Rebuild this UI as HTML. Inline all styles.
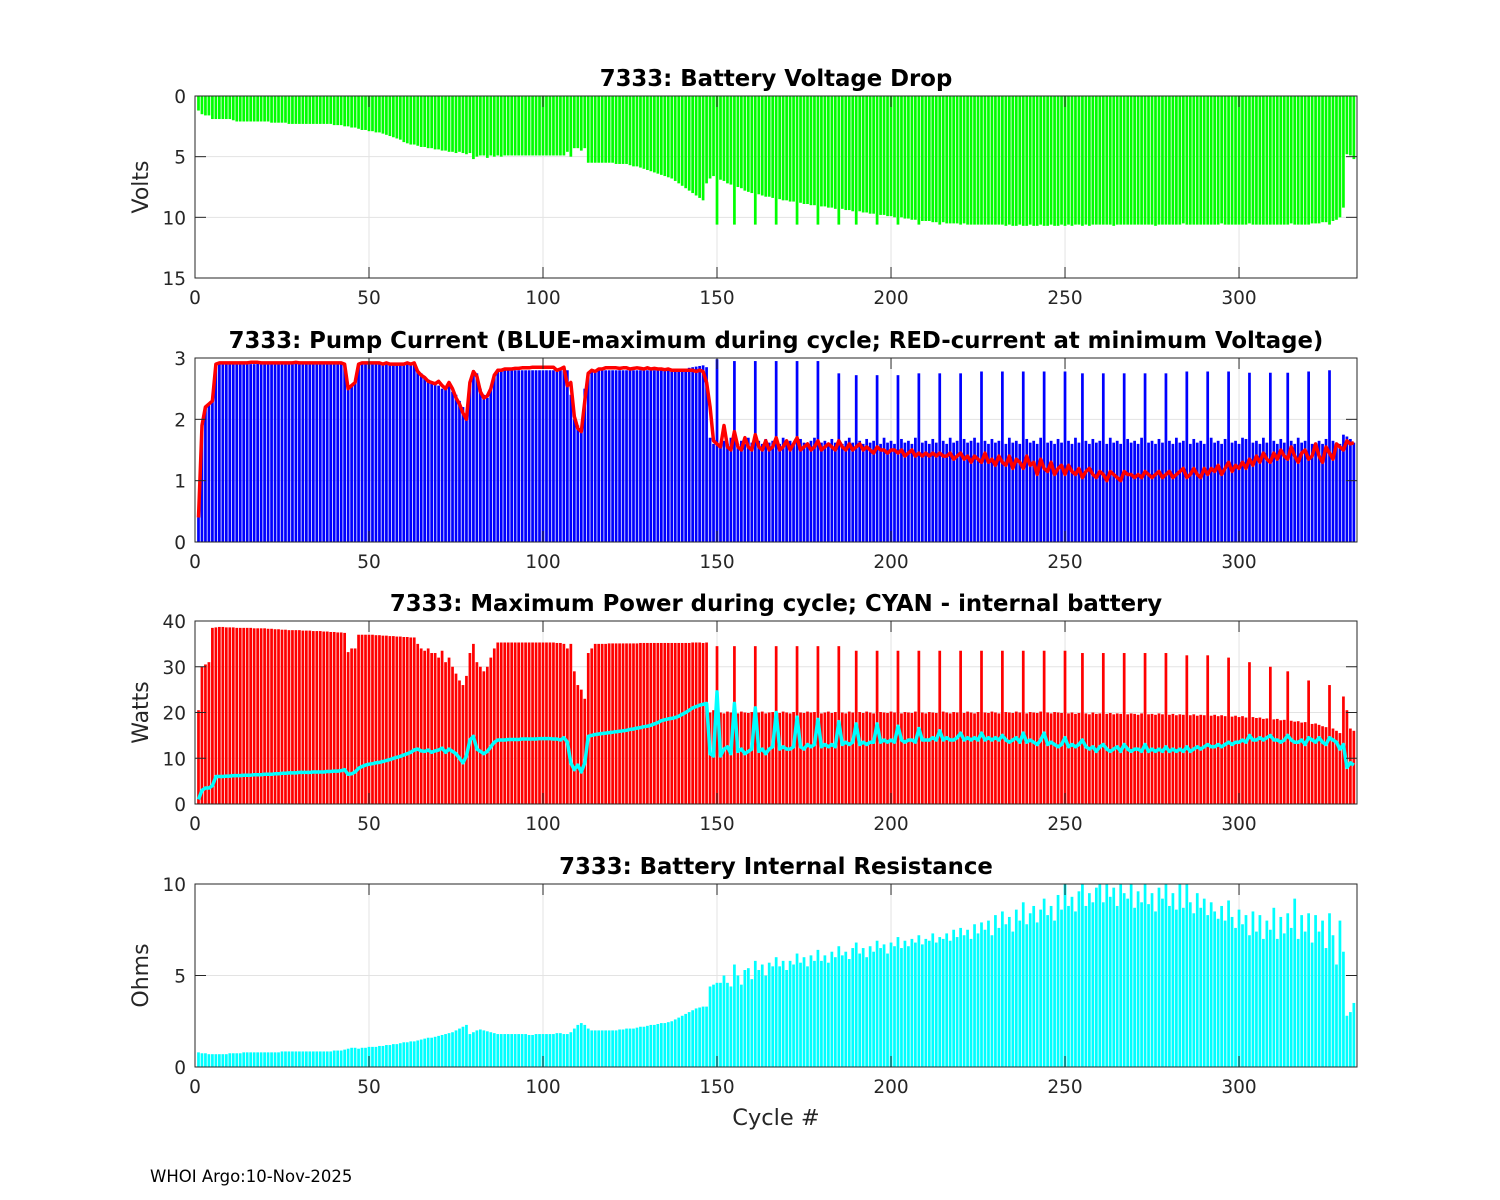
<!DOCTYPE html>
<html><head><meta charset="utf-8"><style>
html,body{margin:0;padding:0;background:#fff;}
svg{display:block;font-family:"DejaVu Sans","Liberation Sans",sans-serif;}
</style></head><body>
<svg id="fig" width="1500" height="1200" viewBox="0 0 1500 1200" xmlns="http://www.w3.org/2000/svg">
<rect width="1500" height="1200" fill="#fff"/>
</svg>
<script>
const cycles = [];
for (let i = 1; i <= 333; i++) cycles.push(i);
const xTicks = [0, 50, 100, 150, 200, 250, 300];

const voltDrop = [1.2,1.5,1.6,1.6,1.9,1.9,1.9,1.9,1.9,1.9,
2.0,2.1,2.1,2.1,2.1,2.1,2.1,2.1,2.1,2.1,
2.1,2.2,2.2,2.2,2.2,2.2,2.3,2.3,2.3,2.3,
2.3,2.3,2.3,2.3,2.3,2.3,2.3,2.3,2.3,2.4,
2.4,2.4,2.5,2.5,2.6,2.6,2.7,2.8,2.8,2.9,
2.9,3.0,3.0,3.1,3.2,3.3,3.4,3.5,3.6,3.8,
3.9,4.0,4.0,4.1,4.2,4.2,4.3,4.3,4.4,4.4,
4.5,4.5,4.6,4.6,4.7,4.6,4.7,4.8,4.7,5.2,
5.0,4.9,4.9,5.1,4.9,5.0,4.9,5.0,4.9,4.9,
4.9,4.9,4.9,4.9,4.9,4.9,4.9,4.9,4.9,4.9,
4.9,4.9,4.9,4.9,4.9,4.9,4.6,5.0,4.3,4.3,
4.5,4.3,5.5,5.5,5.5,5.5,5.5,5.5,5.5,5.5,
5.6,5.6,5.6,5.6,5.7,5.8,5.8,5.9,6.0,6.1,
6.2,6.3,6.4,6.5,6.6,6.7,6.8,7.0,7.2,7.4,
7.6,7.8,8.0,8.2,8.4,8.6,7.2,6.8,6.6,10.6,
6.9,7.0,7.2,7.3,10.6,7.5,7.6,7.8,7.9,8.0,
10.6,8.1,8.2,8.3,8.3,8.4,10.6,8.5,8.6,8.6,
8.7,8.7,10.6,8.8,8.9,8.9,9.0,9.0,10.6,9.1,
9.1,9.2,9.2,9.3,10.6,9.3,9.4,9.4,9.5,10.6,
9.5,9.6,9.6,9.7,9.7,10.6,9.8,9.8,9.9,9.9,
10.0,10.6,10.0,10.1,10.1,10.2,10.2,10.6,10.3,10.3,
10.3,10.4,10.4,10.6,10.4,10.5,10.5,10.5,10.5,10.6,
10.5,10.6,10.6,10.6,10.6,10.6,10.6,10.6,10.6,10.6,
10.6,10.6,10.7,10.6,10.7,10.7,10.6,10.7,10.7,10.6,
10.7,10.7,10.6,10.7,10.7,10.6,10.7,10.7,10.6,10.7,
10.6,10.7,10.6,10.6,10.7,10.6,10.7,10.6,10.6,10.6,
10.6,10.6,10.6,10.7,10.6,10.6,10.6,10.6,10.6,10.6,
10.6,10.6,10.6,10.6,10.6,10.7,10.6,10.6,10.6,10.6,
10.6,10.6,10.6,10.5,10.6,10.6,10.6,10.6,10.6,10.6,
10.6,10.6,10.6,10.6,10.5,10.6,10.6,10.6,10.6,10.6,
10.6,10.6,10.5,10.6,10.6,10.6,10.6,10.6,10.6,10.6,
10.6,10.6,10.6,10.6,10.5,10.6,10.6,10.6,10.6,10.6,
10.5,10.5,10.5,10.4,10.4,10.6,10.3,10.2,10.0,9.2,
4.8,4.9,5.2];

const pumpMax = [0.4,1.9,2.2,2.25,2.3,2.9,2.9,2.9,2.9,2.9,
2.9,2.9,2.9,2.9,2.9,2.9,2.9,2.92,2.9,2.9,
2.9,2.9,2.9,2.9,2.9,2.9,2.9,2.9,2.92,2.9,
2.9,2.9,2.9,2.9,2.9,2.9,2.9,2.9,2.9,2.9,
2.9,2.9,2.9,2.5,2.55,2.6,2.9,2.9,2.9,2.9,
2.9,2.9,2.9,2.9,2.9,2.9,2.9,2.9,2.9,2.9,
2.9,2.9,2.9,2.8,2.75,2.7,2.65,2.6,2.6,2.55,
2.5,2.5,2.55,2.45,2.4,2.3,2.2,2.05,2.6,2.8,
2.75,2.5,2.4,2.35,2.5,2.7,2.8,2.8,2.8,2.8,
2.8,2.8,2.8,2.8,2.8,2.8,2.8,2.8,2.8,2.8,
2.8,2.8,2.8,2.8,2.8,2.8,2.8,2.4,2.0,1.9,
1.8,2.5,2.75,2.8,2.8,2.8,2.8,2.8,2.8,2.8,
2.8,2.8,2.8,2.8,2.8,2.8,2.8,2.8,2.8,2.8,
2.8,2.8,2.8,2.8,2.8,2.8,2.8,2.8,2.8,2.8,
2.82,2.84,2.85,2.86,2.87,2.88,2.85,1.7,1.6,2.98,
1.6,1.65,1.6,1.7,2.95,1.6,1.65,1.6,1.7,1.62,
2.95,1.65,1.6,1.68,1.62,1.65,2.95,1.6,1.7,1.62,
1.65,1.6,2.95,1.68,1.62,1.6,1.65,1.7,2.95,1.62,
1.65,1.6,1.68,1.62,2.75,1.6,1.65,1.7,1.62,2.72,
1.65,1.6,1.68,1.62,1.65,2.72,1.6,1.7,1.62,1.65,
1.6,2.72,1.68,1.62,1.65,1.6,1.7,2.75,1.62,1.65,
1.6,1.68,1.62,2.75,1.65,1.6,1.7,1.62,1.65,2.75,
1.68,1.62,1.65,1.7,1.62,2.78,1.65,1.6,1.68,1.62,
1.65,2.78,1.6,1.7,1.62,1.65,1.6,2.78,1.68,1.62,
1.65,1.6,1.7,2.78,1.62,1.65,1.6,1.68,1.62,2.78,
1.65,1.6,1.7,1.62,2.75,1.65,1.6,1.68,1.62,1.65,
2.75,1.6,1.7,1.62,1.65,1.6,2.75,1.68,1.62,1.65,
1.6,1.7,2.75,1.62,1.65,1.6,1.68,1.62,2.75,1.65,
1.6,1.7,1.62,1.65,2.78,1.6,1.68,1.62,1.65,1.6,
2.78,1.7,1.62,1.65,1.6,1.68,2.78,1.62,1.65,1.6,
1.7,1.68,2.76,1.62,1.65,1.6,1.7,1.62,2.76,1.65,
1.6,1.68,1.62,2.76,1.65,1.6,1.7,1.62,1.65,2.78,
1.6,1.62,1.65,1.6,1.68,2.8,1.65,1.62,1.6,1.75,
1.72,1.68,1.62];

const pumpAtMinV = [0.4,1.9,2.2,2.25,2.3,2.9,2.92,2.92,2.92,2.92,
2.92,2.92,2.92,2.92,2.92,2.93,2.93,2.93,2.92,2.92,
2.92,2.92,2.92,2.92,2.92,2.92,2.92,2.92,2.93,2.92,
2.92,2.92,2.92,2.92,2.92,2.92,2.92,2.92,2.92,2.92,
2.92,2.92,2.9,2.5,2.55,2.6,2.9,2.92,2.92,2.92,
2.92,2.92,2.92,2.9,2.92,2.9,2.9,2.9,2.9,2.9,
2.92,2.9,2.92,2.78,2.72,2.68,2.62,2.6,2.58,2.62,
2.55,2.5,2.6,2.5,2.35,2.25,2.1,2.0,2.6,2.78,
2.7,2.45,2.35,2.38,2.5,2.72,2.8,2.8,2.82,2.82,
2.82,2.83,2.83,2.84,2.84,2.84,2.85,2.85,2.85,2.85,
2.85,2.85,2.85,2.8,2.82,2.85,2.55,2.6,2.05,1.85,
1.8,2.3,2.75,2.8,2.78,2.82,2.82,2.84,2.84,2.84,
2.84,2.83,2.84,2.84,2.82,2.83,2.84,2.83,2.82,2.84,
2.82,2.83,2.82,2.82,2.81,2.82,2.8,2.8,2.8,2.8,
2.8,2.8,2.8,2.78,2.8,2.78,2.6,2.2,1.65,1.6,
1.55,1.9,1.55,1.5,1.8,1.55,1.5,1.7,1.55,1.5,
1.75,1.55,1.5,1.65,1.5,1.55,1.7,1.5,1.55,1.65,
1.5,1.6,1.7,1.5,1.55,1.6,1.5,1.55,1.65,1.5,
1.55,1.6,1.55,1.5,1.65,1.55,1.5,1.6,1.5,1.55,
1.6,1.5,1.55,1.5,1.45,1.55,1.5,1.5,1.45,1.5,
1.5,1.45,1.5,1.4,1.45,1.5,1.4,1.45,1.4,1.45,
1.4,1.45,1.4,1.45,1.4,1.4,1.45,1.35,1.4,1.45,
1.35,1.4,1.3,1.4,1.35,1.3,1.45,1.3,1.35,1.25,
1.4,1.3,1.25,1.4,1.2,1.35,1.3,1.2,1.4,1.25,
1.3,1.1,1.35,1.2,1.15,1.3,1.1,1.2,1.25,1.1,
1.25,1.15,1.1,1.2,1.05,1.15,1.2,1.1,1.05,1.15,
1.1,1.0,1.15,1.1,1.05,1.0,1.15,1.1,1.1,1.05,
1.1,1.05,1.15,1.1,1.05,1.1,1.15,1.05,1.1,1.15,
1.05,1.1,1.15,1.2,1.05,1.1,1.2,1.1,1.05,1.2,
1.1,1.2,1.15,1.25,1.1,1.2,1.3,1.15,1.25,1.2,
1.3,1.2,1.35,1.25,1.4,1.3,1.45,1.35,1.3,1.45,
1.35,1.5,1.4,1.35,1.55,1.4,1.3,1.45,1.5,1.35,
1.4,1.6,1.4,1.3,1.55,1.45,1.35,1.6,1.55,1.5,
1.65,1.6,1.62];

const maxPower = [20.5,30,30.5,31,38.5,38.6,38.7,38.7,38.6,38.6,
38.6,38.5,38.5,38.5,38.5,38.5,38.4,38.4,38.4,38.4,
38.3,38.3,38.2,38.2,38.1,38.1,38,38,38,38,
37.9,37.9,37.9,37.8,37.8,37.8,37.7,37.7,37.6,37.6,
37.5,37.5,37.4,33.2,34,34,37,37,37,37,
37,36.9,36.9,36.8,36.8,36.7,36.7,36.6,36.6,36.5,
36.5,36.4,36.4,35,34,33.5,34,33,33,32,
33.5,31,32,30,28.5,27,26,28,33,35,
31,30,29,30,32,34,35.3,35.3,35.3,35.3,
35.3,35.3,35.3,35.3,35.3,35.3,35.3,35.3,35.3,35.3,
35.3,35.3,35.3,35.2,35.2,35,34,35,29,26,
25,23,33,34,35,35,35,35,35.1,35.1,
35.1,35.1,35.1,35.1,35.1,35.1,35.1,35.2,35.2,35.2,
35.2,35.2,35.2,35.2,35.2,35.2,35.2,35.2,35.2,35.2,
35.2,35.2,35.3,35.3,35.3,35.2,35.3,20,20.5,34.5,
20,19.8,20.2,20,34.5,19.8,20.2,20,19.9,20.1,
34.5,20,20.2,19.8,20,20.1,34.5,19.9,20.2,20,
19.8,20.1,34.5,20,19.9,20.2,20,20.1,34.5,19.8,
20,20.2,19.9,20.1,34.5,20,19.8,20.2,20,33.5,
20.1,19.9,20.2,20,19.8,33.5,20.1,20,19.9,20.2,
20,33.5,19.8,20.1,20,19.9,20.2,33.5,20,19.8,
20.1,20,19.9,33.5,20.2,20,19.8,20.1,20,33.5,
19.9,20.2,20,19.8,20.1,33.5,20,19.9,20.2,20,
19.8,33.5,20.1,20,19.9,20.2,20,33.5,19.8,20.1,
20,19.9,20.2,33.5,20,19.8,20.1,20,19.9,33.5,
19.8,20,19.7,19.9,33,19.8,19.6,20,19.7,19.8,
33,19.7,19.9,19.6,19.8,19.7,33,19.6,19.8,19.7,
19.5,19.8,33,19.6,19.7,19.5,19.8,19.6,33,19.5,
19.7,19.4,19.6,19.5,32.5,19.4,19.6,19.3,19.5,19.4,
32.5,19.3,19.5,19.2,19.4,19.2,32,19.1,19.3,19.0,
19.2,18.9,31,19.0,18.8,18.9,18.6,18.7,30,18.5,
18.6,18.3,18.4,29,18.2,18.0,18.1,17.8,17.9,27,
17.5,17.6,17.3,17.0,16.8,26,16.5,16.0,15.5,23.5,
20.5,16.5,16];

const internalPower = [1,3,3.5,3.5,4,6,6,6,6.1,6.1,
6.2,6.2,6.2,6.3,6.3,6.3,6.4,6.4,6.4,6.5,
6.5,6.5,6.6,6.6,6.7,6.7,6.8,6.8,6.8,6.9,
6.9,6.9,6.9,7,7,7,7,7.1,7.1,7.2,
7.2,7.3,7.5,6.5,6.6,7,7.8,8.2,8.5,8.7,
8.8,9,9.1,9.3,9.5,9.7,10,10.2,10.4,10.7,
11,11.3,11.8,12,11.6,11.5,11.8,11.3,11.6,11.8,
12.2,11.3,12,11.5,11,10,9,10.5,14,14.8,
12,11.5,11,11.5,12.5,13.5,14,14,14,14.1,
14.1,14.1,14.1,14.2,14.2,14.2,14.2,14.2,14.3,14.3,
14.3,14.3,14.2,14.2,14,14.5,13.5,9,7.5,8.5,
7,9,14.8,15,15.2,15.3,15.4,15.5,15.6,15.7,
15.8,15.9,16,16.1,16.3,16.4,16.6,16.7,16.9,17,
17.2,17.5,17.8,18.2,18.4,18.6,18.7,18.9,19.2,19.6,
20,20.5,21,21.3,21.6,21.8,22,11,10.5,24.5,
10.5,12,12.5,11,22,11.5,12,11,11.5,12,
21,11.5,12,11,12,12.5,20,12,12.5,12,
12,12.5,19,12.5,12,13,12.5,13,18.5,12.5,
13,12.5,13,12.5,18,13,13.5,13,13.5,17.5,
13,13.5,13,13.5,13.5,17.5,13.5,14,13.5,14,
13.5,17,14,13.5,14,14,13.5,16.5,14,14,
14,14.5,14,16,14,14.5,14,14,14.5,15.5,
14,14.5,14,14.5,14,15.5,14,14.5,14,14.5,
14,15,14,13.5,14,14.5,13.5,15.5,13.5,14,
13.5,13,14,15.5,13,13.5,13,12.5,13,14.5,
12.5,13,12.5,13,14,12.5,12,12.5,11.5,12.5,
13,12,11.5,12,12.5,11.5,13,12,11.5,12,
12,11.5,13,11.5,12,11.5,12,11.5,12.5,11.5,
12,11.5,12,11.5,12.5,11.5,12,12.5,12,12.5,
13,12.5,12.5,13,12.5,13,13.5,13,13.5,13.5,
14,13.5,15,14,14,14.5,14,14.5,15,14,
14,13.5,14,15,14,13.5,13.5,14,13,14.5,
14,13.5,14.5,13.5,13,14.5,14,13.5,12,13,
8,9,8.5];

const resistance = [0.8,0.75,0.75,0.7,0.7,0.7,0.7,0.7,0.7,0.75,
0.75,0.75,0.75,0.8,0.8,0.8,0.8,0.8,0.8,0.8,
0.8,0.8,0.8,0.8,0.85,0.85,0.85,0.85,0.85,0.85,
0.85,0.85,0.85,0.85,0.85,0.85,0.85,0.85,0.85,0.9,
0.9,0.9,0.95,1.0,1.05,1.05,1.0,1.05,1.05,1.1,
1.1,1.1,1.15,1.15,1.2,1.2,1.25,1.25,1.3,1.35,
1.35,1.4,1.4,1.45,1.5,1.55,1.6,1.6,1.65,1.7,
1.75,1.8,1.85,1.9,2.0,2.1,2.2,2.3,1.8,1.9,
2.0,2.05,2.0,1.95,1.9,1.85,1.8,1.8,1.8,1.8,
1.8,1.8,1.8,1.8,1.8,1.75,1.75,1.8,1.8,1.8,
1.8,1.8,1.8,1.85,1.85,1.8,1.8,1.9,2.1,2.3,
2.4,2.3,2.1,2.0,2.0,2.0,2.0,2.0,2.0,2.0,
2.0,2.05,2.05,2.1,2.1,2.1,2.15,2.2,2.2,2.25,
2.3,2.3,2.35,2.4,2.4,2.45,2.5,2.6,2.7,2.8,
2.9,3.0,3.1,3.2,3.25,3.3,3.3,4.4,4.5,4.6,
4.6,5.0,4.6,4.4,5.6,5.0,4.5,5.3,5.4,4.8,
5.8,5.3,5.6,5.0,5.7,5.5,6.0,5.5,5.8,5.3,
5.8,5.6,6.2,5.7,6.0,5.5,6.1,5.8,6.4,5.8,
6.1,5.7,6.3,6.0,6.6,6.1,6.3,5.9,6.5,6.8,
6.2,6.5,6.0,6.6,6.3,6.9,6.5,6.7,6.2,6.8,
6.6,7.1,6.5,6.9,6.6,7.0,6.8,7.2,6.7,7.0,
6.9,7.3,6.8,7.1,7.0,7.3,6.9,7.5,7.1,7.6,
7.2,7.5,7.0,7.8,7.3,7.9,7.5,8.0,7.2,8.3,
7.6,8.5,7.8,8.2,7.4,8.6,8.0,9.0,7.8,8.4,
8.8,7.9,8.6,9.2,8.3,8.8,8.0,9.4,8.6,10.0,
8.8,9.3,8.5,9.6,10.0,8.8,9.5,9.0,9.8,10.0,
9.0,10.0,9.3,9.8,8.8,10.0,9.5,9.2,10.0,8.7,
9.6,9.0,10.0,8.9,9.5,8.5,9.8,9.2,10.0,8.8,
9.5,8.6,10.0,8.7,10.0,9.0,8.4,9.5,8.7,9.2,
8.3,9.0,8.5,8.1,8.8,8.0,9.1,8.2,7.6,8.6,
7.8,8.3,7.2,8.5,7.4,8.3,7.0,8.0,7.5,8.7,
7.0,8.2,7.3,8.4,7.6,9.2,7.0,8.3,7.4,8.4,
6.8,8.3,7.4,8.0,6.5,8.4,7.2,5.6,8.0,6.3,
2.8,3.0,3.5];

const voltTicks = [0, 5, 10, 15];
const pumpTicks = [0, 1, 2, 3];
const powerTicks = [0, 10, 20, 30, 40];
const ohmTicks = [0, 5, 10];

const NS = "http://www.w3.org/2000/svg";
const svg = document.getElementById("fig");
const X0 = 195, X1 = 1357, XMAX = 333.9;
function sx(v) { return X0 + v / XMAX * (X1 - X0); }
function mk(tag, attrs, parent) {
  const e = document.createElementNS(NS, tag);
  for (const k in attrs) e.setAttribute(k, attrs[k]);
  (parent || svg).appendChild(e);
  return e;
}

function panel(cfg) {
  const g = mk("g", {});
  
  
  const top = cfg.top, bot = cfg.bot, ymin = cfg.ymin, ymax = cfg.ymax;
  const sy = cfg.reverse
    ? v => top + (v - ymin) / (ymax - ymin) * (bot - top)
    : v => bot - (v - ymin) / (ymax - ymin) * (bot - top);
  const grid = mk("g", { stroke: "#e3e3e3", "stroke-width": 1 }, g);
  
  
  xTicks.forEach(t => { if (t > 0) mk("line", { x1: sx(t), x2: sx(t), y1: top, y2: bot }, grid); });
  cfg.yTicks.forEach(t => { mk("line", { x1: X0, x2: X1, y1: sy(t), y2: sy(t) }, grid); });
  const bars = mk("g", { fill: cfg.barColor }, g);
  
  
  const bw = 0.78 * (X1 - X0) / XMAX;
  cycles.forEach((c, i) => {
    const v = Math.min(cfg.bars[i], ymax);
    const y0 = sy(0), y1 = sy(v);
    const r = mk("rect", { x: sx(c) - bw / 2, y: Math.min(y0, y1), width: bw, height: Math.abs(y1 - y0) }, bars);
    
    
  });
  if (cfg.line) {
    const pts = cycles.map((c, i) => sx(c).toFixed(1) + "," + sy(cfg.line[i]).toFixed(1)).join(" ");
    const pl = mk("polyline", { points: pts, fill: "none", stroke: cfg.lineColor, "stroke-width": 3.5, "stroke-linejoin": "round" }, g);
    
    
  }
  const box = mk("rect", { x: X0, y: top, width: X1 - X0, height: bot - top, fill: "none", stroke: "#262626", "stroke-width": 1 }, g);
  
  
  const tk = mk("g", { stroke: "#262626", "stroke-width": 1 }, g);
  xTicks.forEach(t => {
    mk("line", { x1: sx(t), x2: sx(t), y1: bot, y2: bot - 11 }, tk);
    mk("line", { x1: sx(t), x2: sx(t), y1: top, y2: top + 11 }, tk);
    const tx = mk("text", { x: sx(t), y: bot + 26, "text-anchor": "middle", "font-size": 18.5, fill: "#262626" }, g);
    tx.textContent = t;
    
    
  });
  cfg.yTicks.forEach(t => {
    mk("line", { x1: X0, x2: X0 + 11, y1: sy(t), y2: sy(t) }, tk);
    mk("line", { x1: X1, x2: X1 - 11, y1: sy(t), y2: sy(t) }, tk);
    const ty = mk("text", { x: X0 - 9, y: sy(t) + 7, "text-anchor": "end", "font-size": 18.5, fill: "#262626" }, g);
    ty.textContent = t;
    
    
  });
  const title = mk("text", { x: (X0 + X1) / 2, y: top - 10, "text-anchor": "middle", "font-size": 22.8, "font-weight": "bold", fill: "#000" }, g);
  title.textContent = cfg.title;
  
  
  if (cfg.ylabel) {
    const cy = (top + bot) / 2;
    const yl = mk("text", { x: 148, y: cy, "text-anchor": "middle", "font-size": 22, fill: "#262626", transform: "rotate(-90 148 " + cy + ")" }, g);
    yl.textContent = cfg.ylabel;
    
    
  }
}

panel({ name: "voltage-drop-panel", top: 96, bot: 278, ymin: 0, ymax: 15, reverse: true, yTicks: voltTicks, bars: voltDrop, barColor: "#00ff00", title: "7333: Battery Voltage Drop", ylabel: "Volts" });
panel({ name: "pump-current-panel", top: 358, bot: 542, ymin: 0, ymax: 3, yTicks: pumpTicks, bars: pumpMax, barColor: "#0000ff", line: pumpAtMinV, lineColor: "#ff0000", title: "7333: Pump Current (BLUE-maximum during cycle; RED-current at minimum Voltage)" });
panel({ name: "max-power-panel", top: 621, bot: 804, ymin: 0, ymax: 40, yTicks: powerTicks, bars: maxPower, barColor: "#ff0000", line: internalPower, lineColor: "#00ffff", title: "7333: Maximum Power during cycle; CYAN - internal battery", ylabel: "Watts" });
panel({ name: "resistance-panel", top: 884, bot: 1067, ymin: 0, ymax: 10, yTicks: ohmTicks, bars: resistance, barColor: "#00ffff", title: "7333: Battery Internal Resistance", ylabel: "Ohms" });

const xl = mk("text", { x: 776, y: 1125, "text-anchor": "middle", "font-size": 22.5, fill: "#262626" });
xl.textContent = "Cycle #";


const ft = mk("text", { x: 150, y: 1182, "font-size": 16.5, fill: "#000" });
ft.textContent = "WHOI Argo:10-Nov-2025";


</script>
</body></html>
